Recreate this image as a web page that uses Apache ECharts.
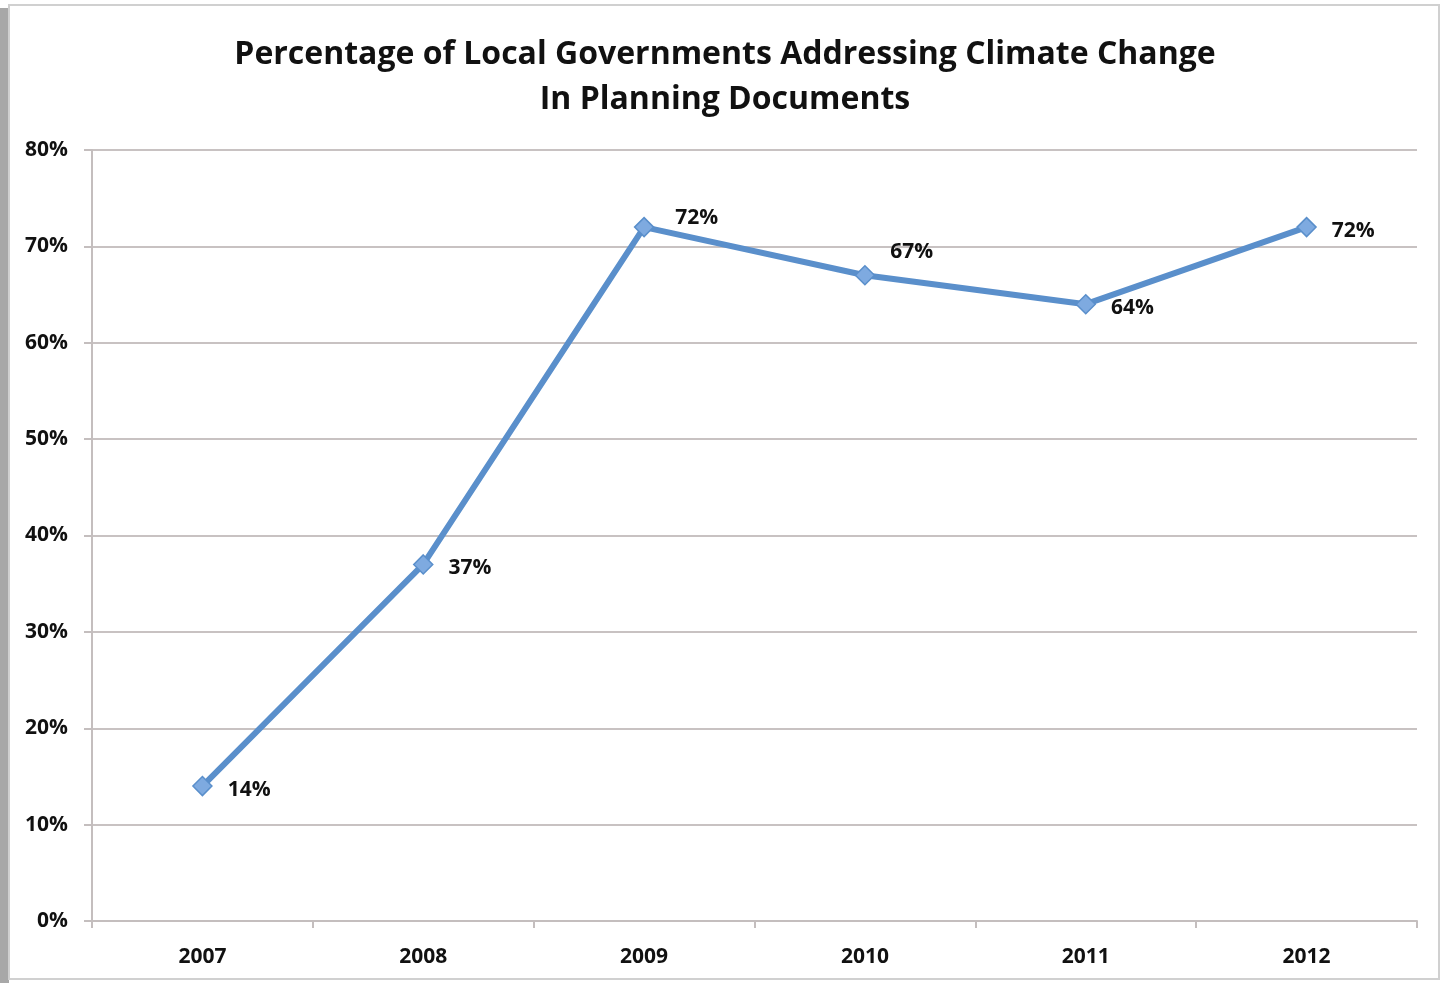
<!DOCTYPE html>
<html>
<head>
<meta charset="utf-8">
<script src="https://cdn.jsdelivr.net/npm/echarts@6/dist/echarts.min.js"></script>
<style>
html,body{margin:0;padding:0;background:#fff;}
#frame{position:absolute;left:0;top:0;width:1450px;height:983px;overflow:hidden;background:#fff;}
#leftband{position:absolute;left:0;top:8px;width:9px;height:975px;background:#a8a8a8;}
#box{position:absolute;left:8px;top:4px;width:1432px;height:976px;border:2px solid #d0d0d0;box-sizing:border-box;}
#chart{position:absolute;left:0;top:0;width:1450px;height:983px;}
</style>
</head>
<body>
<div id="frame">
<div id="leftband"></div>
<div id="box"></div>
<div id="chart"></div>
</div>
<script>
const titleLines = ['Percentage of Local Governments Addressing Climate Change', 'In Planning Documents'];
const categories = ['2007', '2008', '2009', '2010', '2011', '2012'];
const values = [14, 37, 72, 67, 64, 72];
const yTicks = [0, 10, 20, 30, 40, 50, 60, 70, 80];

const FONT = '"Open Sans", "Liberation Sans", sans-serif';
const labelOffsets = {2: [6, -9], 3: [0, -23]};

const chart = echarts.init(document.getElementById('chart'), null, {renderer: 'canvas'});
chart.setOption({
  animation: false,
  backgroundColor: 'transparent',
  title: {
    text: titleLines.join('\n'),
    left: 'center',
    top: 27,
    textStyle: {fontFamily: FONT, fontWeight: 'bold', fontSize: 32, color: '#111', lineHeight: 45}
  },
  grid: {left: 92, right: 33, top: 150, bottom: 62, containLabel: false},
  xAxis: {
    type: 'category',
    data: categories,
    boundaryGap: true,
    axisLine: {lineStyle: {color: '#c4bebe', width: 2}},
    axisTick: {show: true, length: 7, lineStyle: {color: '#c4bebe', width: 2}},
    axisLabel: {fontFamily: FONT, fontWeight: 'bold', fontSize: 21, color: '#111', margin: 26},
    splitLine: {show: false}
  },
  yAxis: {
    type: 'value',
    min: yTicks[0],
    max: yTicks[yTicks.length - 1],
    interval: 10,
    axisLine: {show: true, lineStyle: {color: '#c4bebe', width: 2}},
    axisTick: {show: true, length: 8, lineStyle: {color: '#c4bebe', width: 2}},
    axisLabel: {fontFamily: FONT, fontWeight: 'bold', fontSize: 21, color: '#111', margin: 24, formatter: v => v + '%'},
    splitLine: {show: true, lineStyle: {color: '#c8c2c2', width: 2}}
  },
  series: [{
    type: 'line',
    data: values.map((v, i) => {
      const o = {value: v};
      if (labelOffsets[i]) o.label = {offset: labelOffsets[i]};
      return o;
    }),
    symbol: 'diamond',
    symbolSize: 19,
    lineStyle: {color: '#5a8fcb', width: 6},
    itemStyle: {color: '#7eaae0', borderColor: '#5a8fcb', borderWidth: 1.5},
    label: {
      show: true,
      position: 'right',
      distance: 15,
      offset: [0, 4],
      formatter: p => p.value + '%',
      fontFamily: FONT, fontWeight: 'bold', fontSize: 21, color: '#111'
    },
    z: 5
  }]
});
</script>
</body>
</html>
